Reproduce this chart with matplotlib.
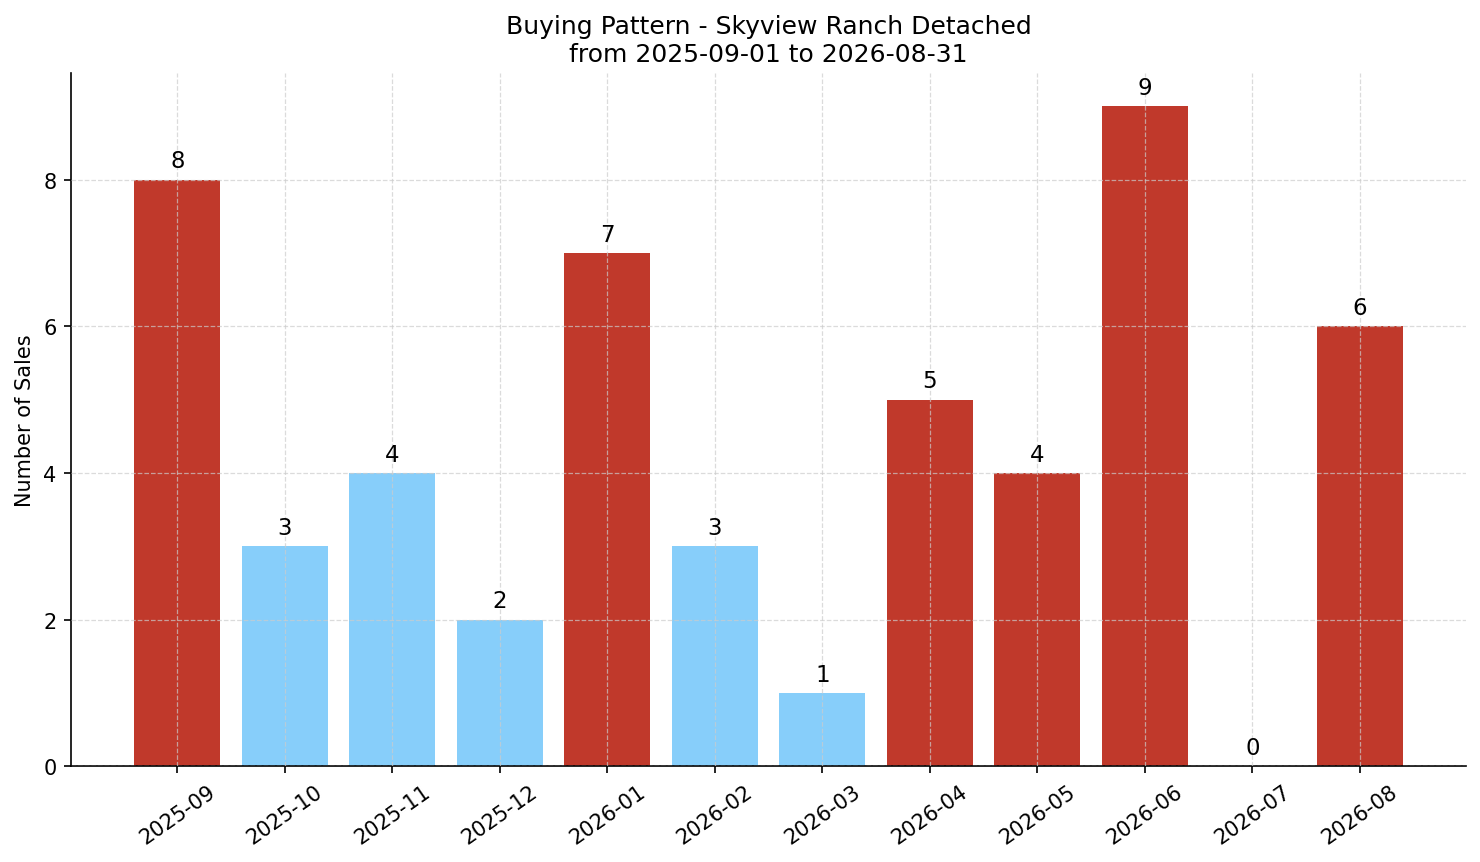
import matplotlib
matplotlib.use("Agg")
import matplotlib.pyplot as plt

months = ["2025-09", "2025-10", "2025-11", "2025-12", "2026-01", "2026-02",
          "2026-03", "2026-04", "2026-05", "2026-06", "2026-07", "2026-08"]
sales = [8, 3, 4, 2, 7, 3, 1, 5, 4, 9, 0, 6]
hot = [True, False, False, False, True, False, False, True, True, True, False, True]

colors = ["#c0392b" if h else "#87cefa" for h in hot]

fig, ax = plt.subplots(figsize=(9.873, 5.753), dpi=150)
fig.subplots_adjust(left=0.048, right=0.99, top=0.914, bottom=0.111)

x = range(len(months))
bars = ax.bar(x, sales, color=colors, width=0.8)
for xi, v in zip(x, sales):
    ax.text(xi, v + 0.1, str(v), ha="center", va="bottom", fontsize=11)

ax.set_xticks(list(x))
ax.set_xticklabels(months, rotation=35)
ax.set_ylabel("Number of Sales")
ax.set_title("Buying Pattern - Skyview Ranch Detached\nfrom 2025-09-01 to 2026-08-31", fontsize=12)
ax.set_ylim(0, 9.45)
ax.set_yticks([0, 2, 4, 6, 8])

ax.set_axisbelow(False)
ax.grid(True, linestyle="--", linewidth=0.6, color="#cccccc", alpha=0.7)
ax.spines["top"].set_visible(False)
ax.spines["right"].set_visible(False)

plt.savefig("out.png", dpi=150)
